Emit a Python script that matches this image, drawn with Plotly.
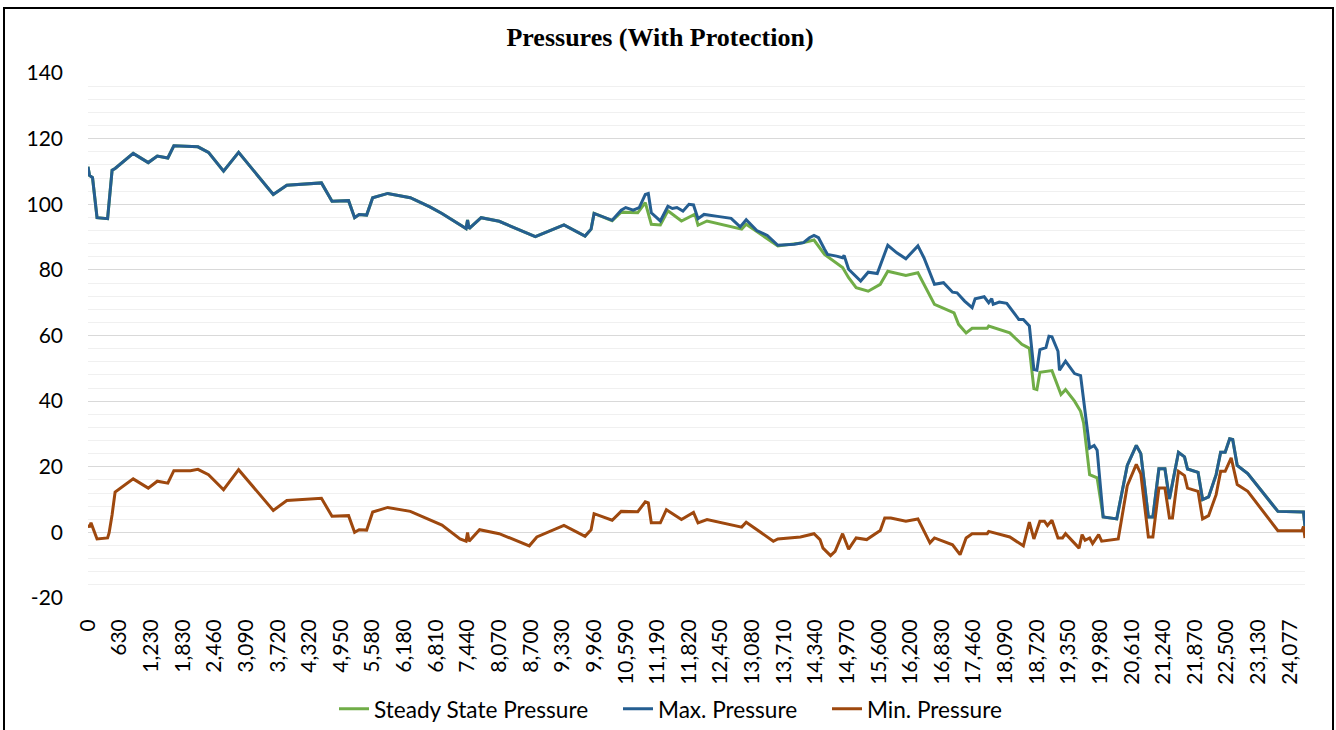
import plotly.graph_objects as go

# Category axis labels (distance along pipeline), one label every 21 categories
tick_labels = ["0", "630", "1,230", "1,830", "2,460", "3,090", "3,720", "4,320", "4,950",
               "5,580", "6,180", "6,810", "7,440", "8,070", "8,700", "9,330", "9,960",
               "10,590", "11,190", "11,820", "12,450", "13,080", "13,710", "14,340",
               "14,970", "15,600", "16,200", "16,830", "17,460", "18,090", "18,720",
               "19,350", "19,980", "20,610", "21,240", "21,870", "22,500", "23,130", "24,077"]
cats_per_label = 21
last_category = 808

y_ticks = [-20, 0, 20, 40, 60, 80, 100, 120, 140]
y_tick_text = ["-20", "0", "20", "40", "60", "80", "100", "120", "140"]

# Max. Pressure (category index, value)
max_idx = [0, 1, 3, 6, 13, 16, 18, 30, 40, 46, 53, 57, 73, 80, 90, 100, 123, 132, 155, 162,
           173, 177, 180, 185, 189, 199, 214, 227, 235, 247, 251, 252, 253, 261, 273, 297, 316,
           330, 334, 336, 348, 354, 357, 362, 366, 370, 372, 374, 380, 385, 388, 391, 395, 399,
           402, 405, 409, 418, 427, 433, 437, 444, 451, 458, 469, 475, 479, 482, 485, 489, 491,
           497, 501, 502, 505, 513, 518, 524, 527, 531, 537, 543, 551, 555, 562, 568, 574, 577,
           582, 587, 589, 595, 598, 600, 601, 605, 610, 615, 618, 621, 625, 628, 630, 632, 636,
           638, 640, 644, 645, 649, 655, 659, 665, 668, 670, 674, 683, 690, 696, 699, 704,
           707, 711, 715, 718, 724, 728, 730, 737, 740, 744, 749, 752, 755, 758, 760, 763, 770,
           790, 807, 808]
max_val = [111.4, 108.8, 108.1, 95.9, 95.6, 110.4, 110.9, 115.5, 112.7, 114.7, 114.1, 117.8,
           117.5, 115.8, 110.1, 115.8, 103.0, 105.8, 106.5, 100.9, 101.1, 95.9, 96.9, 96.7,
           102.0, 103.3, 102.0, 99.2, 97.2, 93.6, 92.6, 95.2, 92.6, 95.9, 94.8, 90.1, 93.7,
           90.3, 92.4, 97.2, 95.1, 98.2, 99.0, 98.2, 99.0, 103.0, 103.3, 97.4, 94.9, 99.4,
           98.7, 99.0, 97.9, 100.0, 99.8, 95.6, 96.9, 96.3, 95.7, 93.1, 95.3, 92.0, 90.5, 87.5,
           87.8, 88.3, 89.8, 90.5, 89.8, 86.3, 84.7, 84.2, 83.7, 84.4, 80.2, 76.6, 79.3, 78.9,
           82.7, 87.5, 85.2, 83.4, 87.3, 83.7, 75.6, 76.1, 73.2, 73.0, 70.5, 68.5, 71.2, 71.8,
           70.0, 71.2, 69.5, 70.2, 69.8, 66.9, 64.9, 64.9, 62.9, 49.6, 49.4, 55.7, 56.3, 59.8,
           59.6, 55.2, 49.4, 52.2, 48.4, 47.8, 25.7, 26.5, 25.0, 4.7, 4.1, 20.4, 26.5,
           24.0, 4.7, 4.7, 19.4, 19.4, 10.2, 24.4, 23.0, 19.3, 18.3, 10.0, 10.8, 17.6, 24.4,
           24.4, 28.5, 28.3, 20.4, 17.9, 6.4, 6.2, 1.8]

# Steady State Pressure (category index, value)
steady_idx = [0, 1, 3, 6, 13, 16, 18, 30, 40, 46, 53, 57, 73, 80, 90, 100, 123, 132, 155, 162,
              173, 177, 180, 185, 189, 199, 214, 227, 235, 247, 251, 252, 253, 261, 273, 297,
              316, 330, 334, 336, 348, 354, 365, 370, 374, 380, 385, 394, 403, 405, 411, 434,
              437, 458, 469, 475, 482, 489, 501, 505, 510, 518, 526, 531, 543, 551, 562, 575,
              578, 583, 587, 597, 598, 612, 620, 625, 628, 630, 632, 640, 646, 649, 655, 659,
              661, 665, 670, 674, 683, 690, 696, 699, 704, 707, 711, 715, 718, 724, 728, 730,
              737, 740, 744, 749, 752, 755, 758, 760, 763, 770, 790, 807, 808]
steady_val = [111.4, 108.8, 108.1, 95.9, 95.6, 110.4, 110.9, 115.5, 112.7, 114.7, 114.1, 117.8,
              117.5, 115.8, 110.1, 115.8, 103.0, 105.8, 106.5, 100.9, 101.1, 95.9, 96.9, 96.7,
              102.0, 103.3, 102.0, 99.2, 97.2, 93.6, 92.6, 95.2, 92.6, 95.9, 94.8, 90.1, 93.7,
              90.3, 92.4, 97.2, 95.0, 97.6, 97.4, 100.5, 93.9, 93.7, 98.0, 94.9, 97.0, 93.6,
              94.9, 92.4, 93.9, 87.3, 87.8, 88.3, 89.1, 84.7, 80.7, 77.6, 74.6, 73.5, 75.6,
              79.6, 78.3, 79.1, 69.5, 66.9, 63.4, 60.8, 62.2, 62.2, 62.9, 60.8, 57.3, 56.1,
              43.8, 43.5, 48.8, 49.3, 42.0, 43.5, 40.0, 36.9, 33.4, 17.6, 16.6, 4.7, 4.1, 20.4,
              26.5, 24.0, 4.7, 4.7, 19.4, 19.4, 10.2, 24.4, 23.0, 19.3, 18.3, 10.0, 10.8, 17.6,
              24.4, 24.4, 28.5, 28.3, 20.4, 17.9, 6.4, 6.2, 1.8]

# Min. Pressure (category index, value)
min_idx = [0, 1, 2, 6, 13, 14, 16, 18, 30, 40, 46, 53, 57, 68, 73, 80, 90, 100, 123, 132, 155,
           162, 173, 177, 180, 185, 189, 199, 214, 235, 247, 251, 252, 253, 260, 273, 293, 298,
           316, 330, 334, 336, 348, 354, 365, 370, 372, 374, 380, 384, 394, 402, 405, 411, 434,
           437, 455, 458, 473, 482, 486, 488, 493, 496, 501, 505, 510, 517, 526, 529, 533, 543,
           551, 559, 562, 574, 579, 583, 587, 597, 598, 612, 621, 625, 628, 632, 635, 637, 640,
           644, 647, 649, 658, 660, 662, 665, 667, 671, 673, 684, 690, 696, 699, 704, 707, 711,
           715, 718, 720, 724, 728, 730, 737, 740, 744, 749, 752, 755, 759, 763, 770, 790, 806,
           807, 808]
min_val = [2.3, 1.6, 2.9, -2.0, -1.7, -0.2, 5.4, 12.3, 16.3, 13.5, 15.6, 15.0, 18.8, 18.8, 19.2,
           17.6, 13.0, 19.1, 6.7, 9.7, 10.4, 4.9, 5.1, 0.0, 0.8, 0.7, 6.2, 7.6, 6.4, 2.2, -2.0,
           -2.7, 0.0, -2.7, 0.8, -0.4, -4.1, -1.4, 2.1, -1.2, 0.8, 5.7, 3.7, 6.4, 6.3, 9.3, 9.0,
           2.9, 2.9, 6.9, 3.9, 6.1, 2.9, 3.9, 1.6, 3.1, -2.7, -2.0, -1.4, -0.4, -2.2, -4.8, -7.1,
           -5.8, -0.4, -5.1, -1.7, -2.2, 0.6, 4.4, 4.4, 3.4, 4.1, -3.2, -1.7, -3.8, -6.8, -1.7,
           -0.4, -0.4, 0.3, -1.4, -4.1, 3.1, -2.0, 3.4, 3.4, 2.1, 3.7, -1.7, -1.7, -0.4, -4.8,
           -0.7, -2.4, -1.7, -3.4, -0.7, -2.7, -2.0, 14.2, 20.7, 17.8, -1.4, -1.4, 13.5, 13.5,
           4.4, 4.4, 18.6, 17.3, 13.5, 12.5, 4.1, 5.1, 11.5, 18.6, 18.6, 22.7, 14.6, 12.5, 0.5,
           0.5, 1.8, -1.7]

series_names = ["Steady State Pressure", "Max. Pressure", "Min. Pressure"]
series_colors = ["#70AD47", "#255E91", "#9E480E"]

W, H = 1336, 730
ml, mr, mt, mb = 88, 31, 73, 132
pw, ph = W - ml - mr, H - mt - mb

fig = go.Figure()
legend_ids = ["legend", "legend2", "legend3"]
legend_left_px = [334, 618, 827]
for name, xs, ys, col, lg in [(series_names[0], steady_idx, steady_val, series_colors[0], legend_ids[0]),
                              (series_names[1], max_idx, max_val, series_colors[1], legend_ids[1]),
                              (series_names[2], min_idx, min_val, series_colors[2], legend_ids[2])]:
    fig.add_trace(go.Scatter(x=xs, y=ys, mode="lines", name=name, legend=lg,
                             line=dict(color=col, width=3), hoverinfo="skip"))

x_tick_font = dict(family="Lato, Carlito, sans-serif", size=21, color="#000000")
y_tick_font = dict(family="Lato, Carlito, sans-serif", size=21, color="#000000")
legend_font = dict(family="Lato, Carlito, sans-serif", size=22.6, color="#000000")

legend_common = dict(orientation="h", xanchor="left", xref="container", yref="container",
                     y=1 - 709 / H, yanchor="middle",
                     font=legend_font, bgcolor="rgba(0,0,0,0)", itemwidth=30, borderwidth=0)

fig.update_layout(
    width=W, height=H,
    margin=dict(l=ml, r=mr, t=mt, b=mb, pad=0, autoexpand=False),
    paper_bgcolor="white", plot_bgcolor="white",
    title=dict(text="<b>Pressures (With Protection)</b>",
               font=dict(family="Liberation Serif, Times New Roman, serif", size=26, color="#000000"),
               x=660 / W, xref="container", xanchor="center",
               y=1 - 37 / H, yref="container", yanchor="middle"),
    xaxis=dict(range=[0, last_category], showgrid=False, zeroline=False, showline=False,
               tickmode="array",
               tickvals=[i * cats_per_label for i in range(len(tick_labels))],
               ticktext=tick_labels, tickangle=-90, tickfont=x_tick_font,
               ticks="", ticklabelstandoff=16, automargin=False),
    yaxis=dict(range=[-20, 140], tickmode="array", tickvals=y_ticks, ticktext=y_tick_text,
               showgrid=True, gridcolor="#d9d9d9",
               gridwidth=1, zeroline=False, showline=False, tickfont=y_tick_font,
               ticks="", ticklabelstandoff=24, automargin=False,
               minor=dict(dtick=4, tick0=0, showgrid=True, gridcolor="#f0f0f0", gridwidth=1)),
    legend=dict(x=legend_left_px[0] / W, **legend_common),
    legend2=dict(x=legend_left_px[1] / W, **legend_common),
    legend3=dict(x=legend_left_px[2] / W, **legend_common),
    showlegend=True,
    shapes=[dict(type="rect", xref="paper", yref="paper",
                 x0=(4 - ml) / pw, x1=(1333 - ml) / pw,
                 y0=(H - mb - 745) / ph, y1=(H - mb - 8) / ph,
                 line=dict(color="#000000", width=2), fillcolor="rgba(0,0,0,0)", layer="above")],
)

fig.write_html("out.html", config={"displayModeBar": False},
               post_script="document.body.style.margin='0px';document.body.style.overflow='hidden';")
